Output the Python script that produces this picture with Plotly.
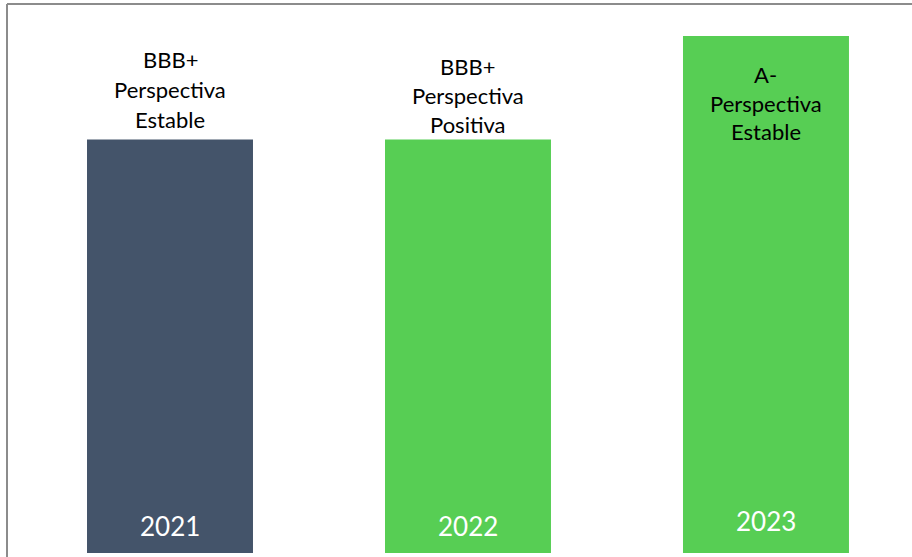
import plotly.graph_objects as go

years = ["2021", "2022", "2023"]
scores = [8, 8, 10]
ratings = ["BBB+", "BBB+", "A-"]
outlook_word = ["Perspectiva", "Perspectiva", "Perspectiva"]
outlook_kind = ["Estable", "Positiva", "Estable"]
colors = ["#44546A", "#57CE54", "#57CE54"]

x = list(range(len(years)))

fig = go.Figure()
fig.add_trace(go.Bar(
    x=x, y=scores, width=0.557,
    marker=dict(color=colors, line=dict(width=0)),
    hoverinfo="skip",
))

font_txt = "Lato, Calibri, sans-serif"
# vertical offsets (px) of each label line relative to bar top
line_shifts = [[80, 50, 20], [73, 44, 15], [-38, -67, -95]]
for i in x:
    lines = [ratings[i], outlook_word[i], outlook_kind[i]]
    for txt, sh in zip(lines, line_shifts[i]):
        fig.add_annotation(
            x=i, y=scores[i], xref="x", yref="y",
            text=txt, showarrow=False, yanchor="middle", yshift=sh,
            font=dict(family=font_txt, size=22, color="#000000"),
        )
    fig.add_annotation(
        x=i, y=0, xref="x", yref="y",
        text=years[i], showarrow=False, yanchor="bottom",
        yshift=9 if i < 2 else 14,
        font=dict(family=font_txt, size=26, color="#FFFFFF"),
    )

# chart frame (left and top)
fig.add_shape(type="line", xref="paper", yref="paper", x0=0, x1=0, y0=-0.02, y1=1,
              line=dict(color="#8C8C8C", width=2))
fig.add_shape(type="line", xref="paper", yref="paper", x0=0, x1=1.01, y0=1, y1=1,
              line=dict(color="#8C8C8C", width=2))

fig.update_layout(
    width=912, height=557,
    margin=dict(l=7, r=0, t=4, b=4),
    paper_bgcolor="white", plot_bgcolor="white",
    showlegend=False,
    hovermode=False,
    xaxis=dict(range=[-0.547, 2.490], visible=False, fixedrange=True),
    yaxis=dict(range=[0, 10.62], visible=False, fixedrange=True),
)

fig.write_html(
    "out.html",
    config={"displayModeBar": False, "staticPlot": True},
    post_script="document.body.style.margin='0';document.body.style.overflow='hidden';",
)
